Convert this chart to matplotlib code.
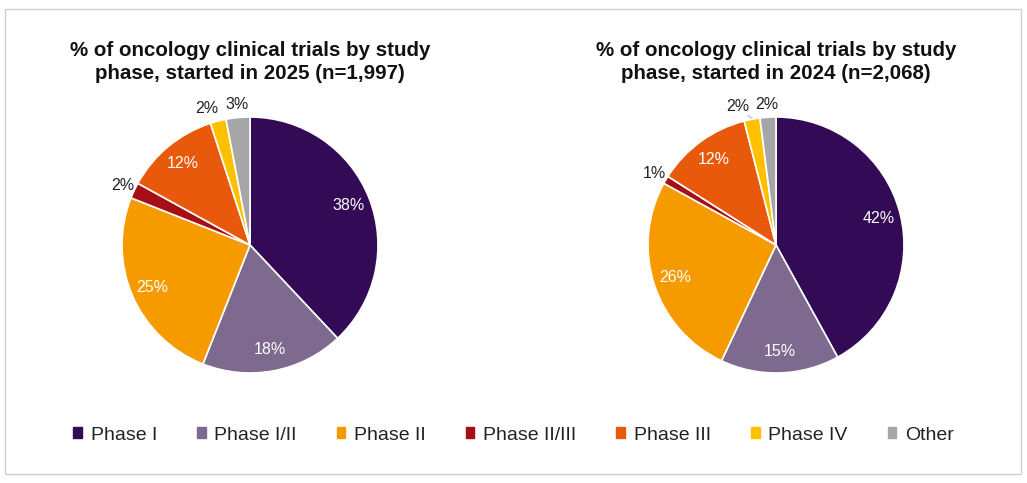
import numpy as np
import matplotlib.pyplot as plt
from matplotlib.patches import Rectangle

plt.rcParams['font.family'] = ['Liberation Sans', 'DejaVu Sans']

phases = ['Phase I', 'Phase I/II', 'Phase II', 'Phase II/III', 'Phase III', 'Phase IV', 'Other']
share_2025 = [38, 18, 25, 2, 12, 2, 3]
share_2024 = [42, 15, 26, 1, 12, 2, 2]
titles = ['% of oncology clinical trials by study\nphase, started in 2025 (n=1,997)',
          '% of oncology clinical trials by study\nphase, started in 2024 (n=2,068)']
colors = ['#330a55', '#7e6a8f', '#f59b00', '#a50f15', '#e8590c', '#ffc000', '#a6a6a6']

W, H = 1027, 483
fig = plt.figure(figsize=(W / 100, H / 100), dpi=100)

# light frame round the whole chart
fig.patches.append(Rectangle((5 / W, 9 / H), 1016 / W, 465 / H, transform=fig.transFigure,
                             fill=False, edgecolor='#d0d0d0', linewidth=1))


def draw_pie(cx, cy, values, title):
    L = 1.3
    size = 2 * 128 * L
    ax = fig.add_axes([(cx - size / 2) / W, (H - cy - size / 2) / H, size / W, size / H])
    wedges, _ = ax.pie(values, colors=colors, startangle=90, counterclock=False,
                       wedgeprops=dict(edgecolor='white', linewidth=1.2))
    ax.set_xlim(-L, L)
    ax.set_ylim(-L, L)
    ax.set_aspect('equal')
    ax.axis('off')
    last_x = None
    # go backwards so the small slices near the top get spread leftwards
    for w, v in list(zip(wedges, values))[::-1]:
        ang = np.deg2rad((w.theta1 + w.theta2) / 2)
        if v >= 5:
            ax.text(0.83 * np.cos(ang), 0.83 * np.sin(ang), f'{v}%', ha='center',
                    va='center', fontsize=11.5, color='white')
            continue
        r = 1.1
        x, y = r * np.cos(ang), r * np.sin(ang)
        if last_x is not None and y > 0.8 and last_x - x < 0.22:
            nx = last_x - 0.23
            if x - nx > 0.08:
                ax.plot([np.cos(ang) * 1.01, nx + 0.08], [np.sin(ang) * 1.01, y - 0.07],
                        color='#bbbbbb', lw=0.8)
            x = nx
        ax.text(x, y, f'{v}%', ha='center', va='center', fontsize=11.5, color='#222222')
        last_x = x
    fig.text(cx / W, 1 - 62 / H, title, ha='center', va='center', fontsize=14.8,
             fontweight='bold', linespacing=1.3, color='#111111')


draw_pie(250, 245, share_2025, titles[0])
draw_pie(776, 245, share_2024, titles[1])

handles = [Rectangle((0, 0), 1, 1, color=c) for c in colors]
fig.legend(handles, phases, loc='center', bbox_to_anchor=(0.5, 1 - 435 / H), ncol=7,
           frameon=False, fontsize=14, handlelength=0.45, handleheight=0.45,
           handletextpad=0.45, columnspacing=2.05, labelcolor='#222222')

fig.savefig('out.png', dpi=100)
